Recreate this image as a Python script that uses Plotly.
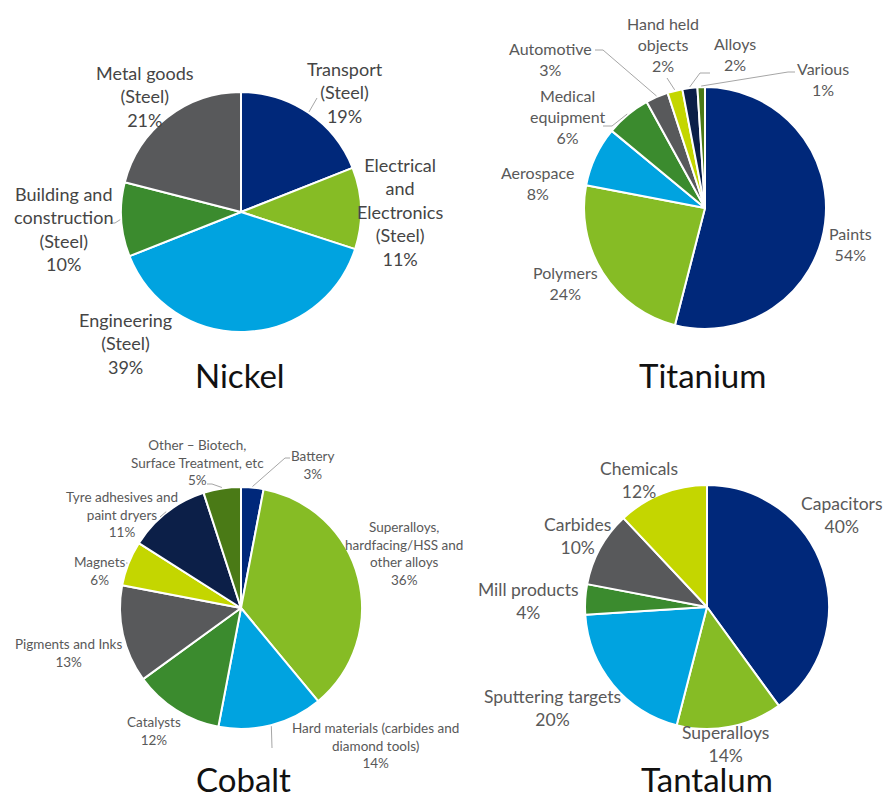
import math
import plotly.graph_objects as go

W, H = 885, 800

# ---- data: end-use shares (%) of each metal, clockwise from 12 o'clock ----
nickel_uses = ["Transport\n(Steel)", "Electrical\nand\nElectronics\n(Steel)",
               "Engineering\n(Steel)", "Building and\nconstruction\n(Steel)",
               "Metal goods\n(Steel)"]
nickel_share = [19, 11, 39, 10, 21]

titanium_uses = ["Paints", "Polymers", "Aerospace", "Medical\nequipment",
                 "Automotive", "Hand held\nobjects", "Alloys", "Various"]
titanium_share = [54, 24, 8, 6, 3, 2, 2, 1]

cobalt_uses = ["Battery", "Superalloys,\nhardfacing/HSS and\nother alloys",
               "Hard materials (carbides and\ndiamond tools)", "Catalysts",
               "Pigments and Inks", "Magnets", "Tyre adhesives and\npaint dryers",
               "Other \u2013 Biotech,\nSurface Treatment, etc"]
cobalt_share = [3, 36, 14, 12, 13, 6, 11, 5]

tantalum_uses = ["Capacitors", "Superalloys", "Sputtering targets",
                 "Mill products", "Carbides", "Chemicals"]
tantalum_share = [40, 14, 20, 4, 10, 12]

# ---- palette ----
NAVY = "#00287A"
GREEN = "#86BC25"
BLUE = "#00A3E0"
DKGREEN = "#3B8B2E"
GRAY = "#58595B"
LIME = "#C4D600"
DEEPNAVY = "#0C1F48"
OLIVE = "#4A7A16"

FONT = "Lato"
LABEL_COLOR = "#595959"
LEADER_COLOR = "#A6A6A6"

# ---- layout of each panel (pixel geometry of the page) ----
panels = [
    dict(title="Nickel", uses=nickel_uses, share=nickel_share,
         colors=[NAVY, GREEN, BLUE, DKGREEN, GRAY],
         center=(241, 212), r=120, title_pos=(240, 375), font=18,
         label_color="#454545",
         label_pos=[(345, 92), (400, 212), (125, 343), (63, 229), (145, 97)],
         leaders={0: [(317, 98)], 3: [(115, 223), (110, 223)]}),
    dict(title="Titanium", uses=titanium_uses, share=titanium_share,
         colors=[NAVY, GREEN, BLUE, DKGREEN, GRAY, LIME, DEEPNAVY, OLIVE],
         center=(705, 208), r=121, title_pos=(702, 375), font=16,
         label_color=LABEL_COLOR,
         label_pos=[(850, 244), (565, 283), (537, 183), (568, 116),
                    (550, 59), (663, 44), (735, 54), (823, 79)],
         leaders={3: [(612, 126), (603, 126)], 4: [(603, 50), (595, 50)],
                  5: [(667, 78)], 6: [(700, 73), (710, 73)],
                  7: [(788, 72), (795, 72)]}),
    dict(title="Cobalt", uses=cobalt_uses, share=cobalt_share,
         colors=[NAVY, GREEN, BLUE, DKGREEN, GRAY, LIME, DEEPNAVY, OLIVE],
         center=(241, 608), r=121, title_pos=(243, 779), font=13.5,
         label_color=LABEL_COLOR,
         label_pos=[(312, 465), (404, 553), (375, 745), (154, 731),
                    (68, 653), (100, 571), (122, 514), (197, 462)],
         leaders={0: [(285, 458), (290, 458)], 2: [(272, 748)],
                  5: [(126, 563)], 6: [(160, 517)],
                  7: [(212, 484), (207, 484)]}),
    dict(title="Tantalum", uses=tantalum_uses, share=tantalum_share,
         colors=[NAVY, GREEN, BLUE, DKGREEN, GRAY, LIME],
         center=(707, 607), r=122, title_pos=(707, 779), font=17.5,
         label_color=LABEL_COLOR,
         label_pos=[(842, 515), (725, 744), (552, 708), (528, 601),
                    (577, 536), (639, 480)],
         leaders={}),
]


def px(x):
    return x / W


def py(y):
    return 1 - y / H


fig = go.Figure()
annotations = []
shapes = []

for p in panels:
    cx, cy = p["center"]
    r = p["r"]
    fig.add_trace(go.Pie(
        labels=[u.replace("\n", " ") for u in p["uses"]],
        values=p["share"],
        sort=False, direction="clockwise", rotation=0,
        textinfo="none", hoverinfo="label+percent",
        marker=dict(colors=p["colors"], line=dict(color="white", width=2)),
        domain=dict(x=[px(cx - r), px(cx + r)], y=[py(cy + r), py(cy - r)]),
        showlegend=False,
    ))

    # category labels with their share
    for use, val, (lx, ly) in zip(p["uses"], p["share"], p["label_pos"]):
        annotations.append(dict(
            x=px(lx), y=py(ly), xref="paper", yref="paper",
            text=use.replace("\n", "<br>") + f"<br>{val}%",
            showarrow=False, xanchor="center", yanchor="middle",
            font=dict(family=FONT, size=p["font"], color=p["label_color"]),
        ))

    # leader lines from the middle of a slice's rim to its label
    total = sum(p["share"])
    cum = 0
    mids = []
    for v in p["share"]:
        mids.append((cum + v / 2) / total * 2 * math.pi)
        cum += v
    for idx, pts in p["leaders"].items():
        a = mids[idx]
        start = (cx + (r + 1) * math.sin(a), cy - (r + 1) * math.cos(a))
        path = [start] + pts
        for (x0, y0), (x1, y1) in zip(path[:-1], path[1:]):
            shapes.append(dict(
                type="line", xref="paper", yref="paper",
                x0=px(x0), y0=py(y0), x1=px(x1), y1=py(y1),
                line=dict(color=LEADER_COLOR, width=1),
            ))

    tx, ty = p["title_pos"]
    annotations.append(dict(
        x=px(tx), y=py(ty), xref="paper", yref="paper", text=p["title"],
        showarrow=False, xanchor="center", yanchor="middle",
        font=dict(family=FONT, size=33, color="#111111"),
    ))

fig.update_layout(
    width=W, height=H,
    margin=dict(l=0, r=0, t=0, b=0),
    paper_bgcolor="white", plot_bgcolor="white",
    annotations=annotations, shapes=shapes,
)

fig.write_html("out.html")
